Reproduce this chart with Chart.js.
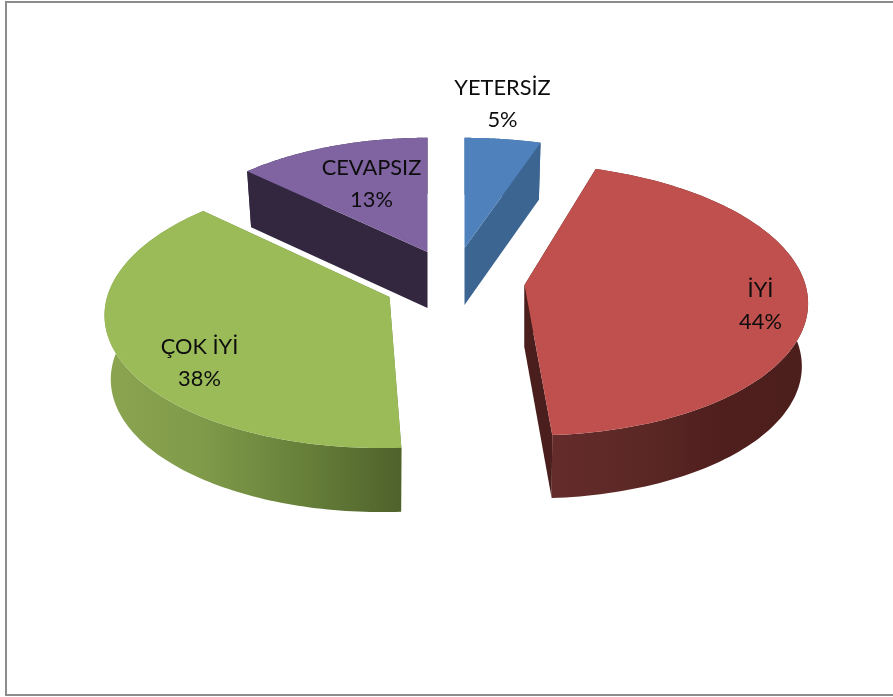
<!DOCTYPE html>
<html>
<head>
<meta charset="utf-8">
<title>Pie</title>
<script src="https://cdn.jsdelivr.net/npm/chart.js@4"></script>
<style>
html, body { margin: 0; padding: 0; background: #fff; }
canvas { display: block; }
</style>
</head>
<body>
<canvas id="chart" width="893" height="697"></canvas>
<script>
// values as printed on the slices
var categories = ["YETERSİZ", "İYİ", "ÇOK İYİ", "CEVAPSIZ"];
var values = [5, 44, 38, 13];
var sliceColors = ["#4f81bd", "#c0504d", "#9bbb59", "#8064a2"];

// dark side faces
var cutColors = ["#3c6591", "#4a1e1c", "#6a8339", "#32273f"];
var wallColors = [
	["#3c6591", "#3c6591"],
	["#642c2a", "#5c2826", "#4f1f1d", "#4b1e1c"],
	["#8ba551", "#7f9a49", "#67803a", "#4f622b"],
	["#32273f", "#32273f"]
];

// 3d look, one entry per slice
var explodeX = [18, 78, -57, -19];
var explodeY = [-52, -15, -3, -48];
var tilt = [0.434, 0.478, 0.48, 0.45];
var widen = [0.965, 1, 1.005, 0.945];
var skew = [0, -8, 8, 0];
var depth = [57, 63, 64, 56];
var perspective = 0.107;
var bottomShrink = 0.978;

// label place, relative to the slice tip
var labelX = [38, 236, -190, -56];
var labelY = [-160, 5, 50, -84];

function corner(arc, i, angle, radius) {
	var u = Math.cos(angle) * radius;
	var v = -Math.sin(angle) * radius;
	var w = 1 + perspective * v;
	return {
		x: arc.x + explodeX[i] + arc.outerRadius * widen[i] * u / w + skew[i] * v,
		y: arc.y + explodeY[i] - arc.outerRadius * tilt[i] * v / w
	};
}

function lowered(arc, i, p) {
	var tipX = arc.x + explodeX[i];
	return { x: tipX + (p.x - tipX) * bottomShrink, y: p.y + depth[i] };
}

function outerEdge(arc, i) {
	var pts = [];
	var steps = 120;
	for (var s = 0; s <= steps; s++) {
		var a = arc.startAngle + (arc.endAngle - arc.startAngle) * s / steps;
		pts.push(corner(arc, i, a, 1));
	}
	return pts;
}

function fillPoly(ctx, pts, fill) {
	ctx.beginPath();
	pts.forEach(function(p, n) {
		if (n === 0) { ctx.moveTo(p.x, p.y); } else { ctx.lineTo(p.x, p.y); }
	});
	ctx.closePath();
	ctx.fillStyle = fill;
	ctx.fill();
}

var pie3d = {
	id: 'pie3d',
	beforeDraw: function(chart) {
		var ctx = chart.ctx;
		ctx.save();
		ctx.fillStyle = '#ffffff';
		ctx.fillRect(0, 0, chart.width, chart.height);
		// frame is open on the right side
		ctx.strokeStyle = '#8c8c8c';
		ctx.lineWidth = 2;
		ctx.beginPath();
		ctx.moveTo(chart.width, 2);
		ctx.lineTo(6, 2);
		ctx.lineTo(6, 695);
		ctx.lineTo(chart.width, 695);
		ctx.stroke();
		ctx.restore();
	},
	beforeDatasetDraw: function(chart, args) {
		var ctx = chart.ctx;
		var arcs = chart.getDatasetMeta(args.index).data;
		var order = [3, 0, 1, 2];

		ctx.save();
		order.forEach(function(i) {
			var arc = arcs[i];
			var top = outerEdge(arc, i);
			var tip = corner(arc, i, 0, 0);
			var tipLow = lowered(arc, i, tip);
			var low = top.map(function(p) { return lowered(arc, i, p); });

			// cut faces first, the wall goes over them
			fillPoly(ctx, [tip, top[0], low[0], tipLow], cutColors[i]);
			fillPoly(ctx, [tip, top[top.length - 1], low[low.length - 1], tipLow], cutColors[i]);

			var xs = top.map(function(p) { return p.x; });
			var grad = ctx.createLinearGradient(Math.min.apply(null, xs), 0, Math.max.apply(null, xs), 0);
			wallColors[i].forEach(function(c, n) {
				grad.addColorStop(n / (wallColors[i].length - 1), c);
			});
			fillPoly(ctx, top.concat(low.slice().reverse()), grad);

			fillPoly(ctx, [tip].concat(top), sliceColors[i]);
		});
		ctx.restore();

		return false;
	},
	afterDatasetsDraw: function(chart) {
		var ctx = chart.ctx;
		var arcs = chart.getDatasetMeta(0).data;
		ctx.save();
		ctx.font = '21.8px Lato, Carlito, sans-serif';
		ctx.fillStyle = '#0d0d0d';
		ctx.textAlign = 'center';
		ctx.textBaseline = 'middle';
		arcs.forEach(function(arc, i) {
			var x = arc.x + explodeX[i] + labelX[i];
			var y = arc.y + explodeY[i] + labelY[i];
			ctx.fillText(categories[i], x, y);
			ctx.fillText(values[i] + '%', x, y + 32);
		});
		ctx.restore();
	}
};

var chart_pie_settings = {
	type: 'pie',
	data: {
		labels: categories,
		datasets: [{
			data: values,
			backgroundColor: sliceColors,
			borderWidth: 0,
			radius: 281
		}]
	},
	options: {
		responsive: false,
		animation: false,
		layout: { padding: { bottom: 97 } },
		plugins: {
			legend: { display: false },
			tooltip: { enabled: false }
		}
	},
	plugins: [pie3d]
};

var chart_pie = new Chart(document.getElementById('chart'), chart_pie_settings);
</script>
</body>
</html>
